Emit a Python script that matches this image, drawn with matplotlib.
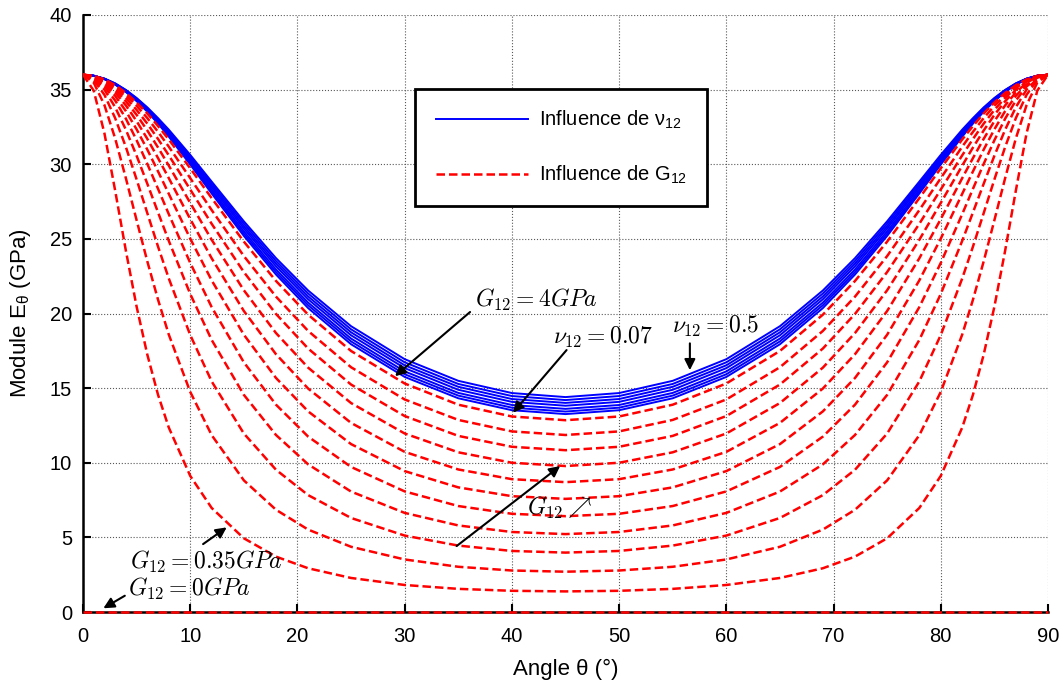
# Module E_theta vs angle: influence of nu12 (blue) and G12 (red dashed).

import matplotlib
matplotlib.use("Agg")
import matplotlib.pyplot as plt

# angles (deg) read on the first half of the plot, curves are symmetric about 45 deg
ANGLES_HALF = [0, 1, 2, 3, 4, 5, 6, 7, 8, 10, 12, 15, 18, 21, 25, 30, 35, 40, 45]

# blue curves: G12 = 4 GPa, nu12 from 0.07 to 0.5
NU12 = [0.07, 0.14, 0.21, 0.29, 0.36, 0.43, 0.50]
E_NU = [
    [36, 35.92, 35.70, 35.34, 34.84, 34.23, 33.52, 32.72, 31.85, 29.98, 28.04, 25.20, 22.61, 20.36, 17.94, 15.75, 14.32, 13.52, 13.26],
    [36, 35.93, 35.71, 35.35, 34.87, 34.26, 33.56, 32.78, 31.92, 30.09, 28.17, 25.35, 22.78, 20.55, 18.13, 15.93, 14.50, 13.69, 13.43],
    [36, 35.93, 35.71, 35.36, 34.89, 34.30, 33.61, 32.84, 32.00, 30.19, 28.30, 25.51, 22.95, 20.73, 18.32, 16.12, 14.68, 13.87, 13.61],
    [36, 35.93, 35.72, 35.38, 34.91, 34.34, 33.66, 32.91, 32.09, 30.31, 28.45, 25.69, 23.16, 20.95, 18.54, 16.34, 14.89, 14.08, 13.82],
    [36, 35.93, 35.73, 35.39, 34.94, 34.37, 33.71, 32.97, 32.16, 30.41, 28.58, 25.85, 23.34, 21.14, 18.74, 16.53, 15.09, 14.27, 14.01],
    [36, 35.93, 35.73, 35.41, 34.96, 34.41, 33.76, 33.03, 32.24, 30.52, 28.71, 26.02, 23.52, 21.34, 18.94, 16.73, 15.28, 14.47, 14.20],
    [36, 35.93, 35.74, 35.42, 34.98, 34.44, 33.81, 33.09, 32.32, 30.63, 28.84, 26.18, 23.71, 21.54, 19.15, 16.94, 15.49, 14.67, 14.40],
]

# red curves: G12 from 0 to ~4 GPa
G12 = [0.0, 0.35, 0.70, 1.05, 1.40, 1.75, 2.10, 2.45, 2.80, 3.15, 3.50, 3.85]
E_G = [
    [0] * 19,
    [36, 34.93, 32.07, 28.23, 24.20, 20.46, 17.24, 14.55, 12.36, 9.12, 6.97, 4.94, 3.71, 2.93, 2.28, 1.81, 1.55, 1.42, 1.38],
    [36, 35.47, 33.96, 31.73, 29.06, 26.25, 23.49, 20.92, 18.59, 14.75, 11.85, 8.82, 6.85, 5.52, 4.37, 3.52, 3.03, 2.78, 2.70],
    [36, 35.65, 34.65, 33.09, 31.15, 28.98, 26.72, 24.48, 22.35, 18.56, 15.45, 11.96, 9.53, 7.83, 6.30, 5.12, 4.45, 4.09, 3.98],
    [36, 35.74, 35.00, 33.82, 32.31, 30.57, 28.69, 26.77, 24.87, 21.31, 18.23, 14.55, 11.86, 9.89, 8.07, 6.64, 5.80, 5.36, 5.22],
    [36, 35.80, 35.21, 34.27, 33.05, 31.61, 30.02, 28.35, 26.66, 23.39, 20.43, 16.73, 13.89, 11.75, 9.72, 8.08, 7.10, 6.58, 6.42],
    [36, 35.84, 35.35, 34.58, 33.56, 32.34, 30.98, 29.52, 28.02, 25.02, 22.22, 18.58, 15.68, 13.44, 11.25, 9.44, 8.35, 7.76, 7.58],
    [36, 35.86, 35.46, 34.81, 33.94, 32.89, 31.70, 30.41, 29.07, 26.33, 23.70, 20.17, 17.27, 14.97, 12.67, 10.73, 9.55, 8.90, 8.70],
    [36, 35.88, 35.54, 34.98, 34.22, 33.31, 32.26, 31.12, 29.91, 27.41, 24.94, 21.56, 18.69, 16.37, 14.00, 11.96, 10.70, 10.00, 9.78],
    [36, 35.90, 35.60, 35.11, 34.45, 33.64, 32.72, 31.69, 30.60, 28.31, 26.01, 22.78, 19.97, 17.65, 15.24, 13.13, 11.80, 11.07, 10.84],
    [36, 35.91, 35.65, 35.22, 34.63, 33.92, 33.09, 32.17, 31.18, 29.07, 26.93, 23.85, 21.13, 18.83, 16.40, 14.24, 12.87, 12.10, 11.86],
    [36, 35.92, 35.69, 35.30, 34.78, 34.14, 33.40, 32.56, 31.66, 29.73, 27.73, 24.82, 22.18, 19.92, 17.49, 15.31, 13.89, 13.10, 12.85],
]


def mirror(half):
    """Complete a 0..45 half-curve to 0..90 using the symmetry about 45 deg."""
    return list(half) + list(reversed(half[:-1]))


angles = ANGLES_HALF + [90 - a for a in reversed(ANGLES_HALF[:-1])]

plt.rcParams['font.family'] = ['Liberation Sans', 'DejaVu Sans']
plt.rcParams['mathtext.fontset'] = 'custom'
plt.rcParams['mathtext.rm'] = 'Liberation Sans'
plt.rcParams['mathtext.it'] = 'Liberation Sans'
plt.rcParams['mathtext.bf'] = 'Liberation Sans:bold'

fig = plt.figure(figsize=(10.63, 6.84), dpi=100)
ax = fig.add_axes([83 / 1063, 72 / 684, 965 / 1063, 597 / 684])

for i, e in enumerate(E_NU):
    ax.plot(angles, mirror(e), color='#0000ff', lw=1.4,
            label=r'Influence de ν$_{12}$' if i == 0 else None)

for i, e in enumerate(E_G):
    ax.plot(angles, mirror(e), color='#ff0000', lw=1.8, dashes=(3.4, 1.6),
            label=r'Influence de G$_{12}$' if i == 0 else None,
            zorder=3, clip_on=(i != 0))

ax.set_xlim(0, 90)
ax.set_ylim(0, 40)
ax.set_xticks(range(0, 91, 10))
ax.set_yticks(range(0, 41, 5))
ax.grid(True, linestyle=':', color='0.35', lw=0.8)
ax.spines['top'].set_visible(False)
ax.spines['right'].set_visible(False)
for s in ('left', 'bottom'):
    ax.spines[s].set_linewidth(1.8)
ax.tick_params(direction='in', length=6, width=1.5, labelsize=14.5, pad=8)
ax.tick_params(axis='x', pad=11)

ax.set_xlabel('Angle θ (°)', fontsize=16, labelpad=9)
ax.set_ylabel(r'Module E$_{θ}$ (GPa)', fontsize=16, labelpad=12)

leg = ax.legend(loc='upper left', bbox_to_anchor=(0.334, 0.893), fontsize=14.5,
                handlelength=4.6, handletextpad=0.55, labelspacing=1.6,
                borderpad=1.0, fancybox=False, framealpha=1, edgecolor='black')
leg.get_frame().set_linewidth(2)

# annotations (LaTeX style text)
arrow = dict(arrowstyle='-|>', color='black', lw=1.5, mutation_scale=16,
             shrinkA=0, shrinkB=0)
txt = dict(fontsize=17, math_fontfamily='cm', va='center', ha='left')

ax.text(36.6, 20.9, r'$G_{12} = 4GPa$', **txt)
ax.annotate('', xy=(29.1, 15.8), xytext=(36.1, 20.1), arrowprops=arrow)

ax.text(43.8, 18.4, r'$\nu_{12} = 0.07$', **txt)
ax.annotate('', xy=(40.1, 13.35), xytext=(45.1, 17.55), arrowprops=arrow)

ax.text(54.9, 19.1, r'$\nu_{12} = 0.5$', **txt)
ax.annotate('', xy=(56.6, 16.2), xytext=(56.6, 18.0), arrowprops=arrow)

ax.text(41.4, 7.0, r'$G_{12} \nearrow$', **txt)
ax.annotate('', xy=(44.5, 9.78), xytext=(34.85, 4.42), arrowprops=arrow)

ax.text(4.4, 3.35, r'$G_{12} = 0.35GPa$', **txt)
ax.annotate('', xy=(13.4, 5.67), xytext=(11.2, 4.55), arrowprops=arrow)

ax.text(4.2, 1.55, r'$G_{12} = 0GPa$', **txt)
ax.annotate('', xy=(1.9, 0.25), xytext=(3.9, 1.09), arrowprops=arrow)

fig.savefig('out.png', dpi=100)
